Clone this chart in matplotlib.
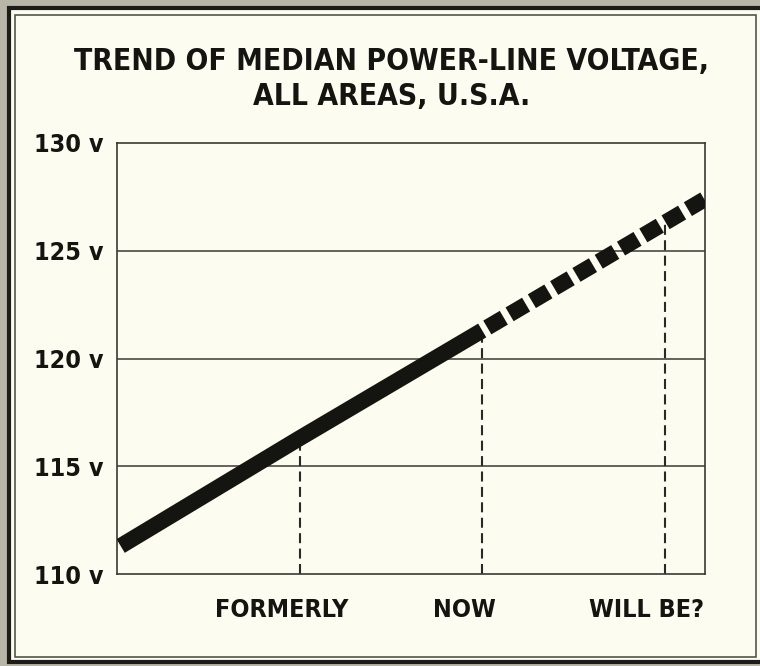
import matplotlib.pyplot as plt
from matplotlib.patches import Rectangle
import matplotlib.transforms as mtransforms

# trend of median power-line voltage
periods = ['FORMERLY', 'NOW', 'WILL BE?']
period_x = [1, 2, 3]
period_v = [116.3, 121.3, 126.3]

# the line runs from the left edge of the plot to the right edge
solid_x = [0.02, 1, 2]
solid_v = [111.3, 116.3, 121.3]
dash_x = [2, 3, 3.22]
dash_v = [121.3, 126.3, 127.4]

yticks = [110, 115, 120, 125, 130]
ylabels = ['110 v', '115 v', '120 v', '125 v', '130 v']

FONT = ['DejaVu Sans']
ink = '#141410'
paper = '#fcfcf1'

fig = plt.figure(figsize=(7.6, 6.66), dpi=100)
fig.patch.set_facecolor('#b8b5a9')

# frame: thick outer line, thin inner line
W, H = 760, 666
fig.patches.append(Rectangle((9 / W, 4 / H), 760 / W, 654 / H, transform=fig.transFigure,
                             facecolor=paper, edgecolor='#1c1c18', lw=3, zorder=-2))
fig.patches.append(Rectangle((15 / W, 9 / H), 741 / W, 642 / H, transform=fig.transFigure,
                             facecolor='none', edgecolor='#55554c', lw=1.2, zorder=-1))

ax = fig.add_axes([117 / W, 1 - 574 / H, 588 / W, 431 / H])
ax.set_facecolor(paper)

ax.set_xlim(0, 3.22)
ax.set_ylim(110, 130)

# horizontal rules
for v in yticks[1:-1]:
    ax.axhline(v, color='#3a3a34', lw=1.1, zorder=1)

# dashed drop lines to each period
ax.vlines(period_x, 110, period_v, colors='#2a2a25', lw=1.5,
          linestyles=(0, (4.8, 2.6)), zorder=2)

ax.plot(solid_x, solid_v, color=ink, lw=11.5, solid_capstyle='butt', zorder=3)
ax.plot(dash_x, dash_v, color=ink, lw=11.5, dash_capstyle='butt',
        linestyle=(1.25, (1.2, 0.42)), zorder=3)

ax.set_xticks([])
ax.set_yticks(yticks)
ax.set_yticklabels(ylabels, family=FONT, fontweight='bold', fontstretch='condensed',
                   fontsize=18, color=ink)
ax.tick_params(axis='y', length=0, pad=10)
for s in ax.spines.values():
    s.set_color('#3a3a34')
    s.set_linewidth(1.2)

trans = mtransforms.blended_transform_factory(ax.transData, ax.transAxes)
for x, lab in zip(period_x, periods):
    ax.text(x - 0.1, -0.084, lab, transform=trans, ha='center', va='center',
            family=FONT, fontweight='bold', fontstretch='condensed', fontsize=18, color=ink)

fig.text(0.515, 1 - 79 / H, 'TREND OF MEDIAN POWER-LINE VOLTAGE,\nALL AREAS, U.S.A.',
         ha='center', va='center', family=FONT, fontweight='bold', fontstretch='condensed',
         fontsize=21.5, color=ink, linespacing=1.25)

plt.savefig('out.png', dpi=100, facecolor=fig.get_facecolor())
